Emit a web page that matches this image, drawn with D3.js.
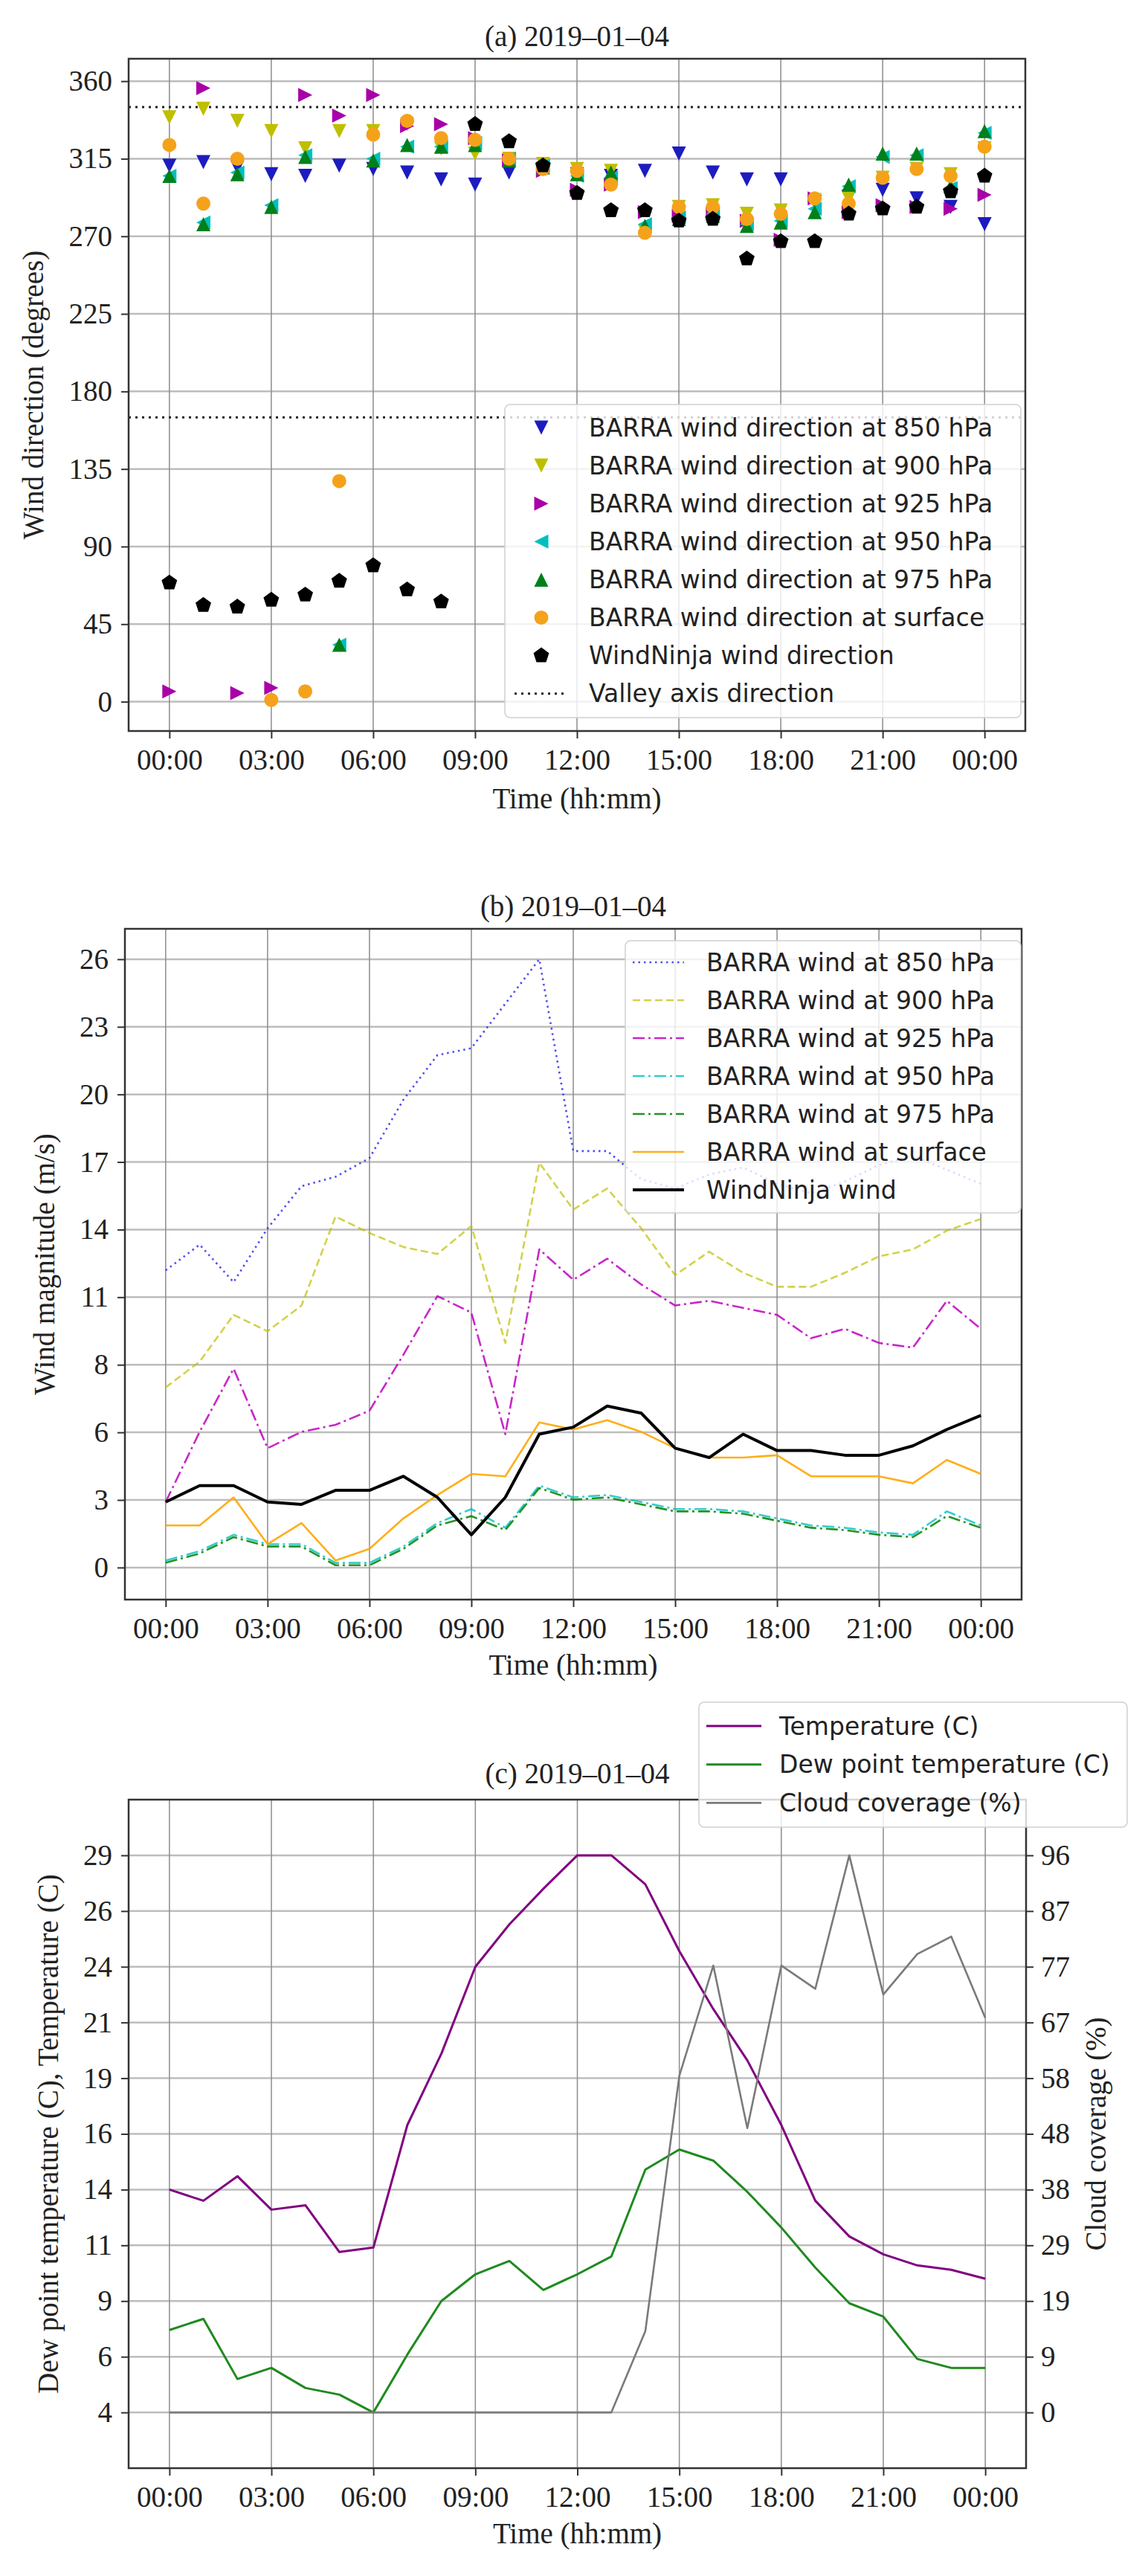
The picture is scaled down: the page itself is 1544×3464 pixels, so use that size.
<!DOCTYPE html>
<html>
<head>
<meta charset="utf-8">
<script src="https://cdn.jsdelivr.net/npm/d3@7"></script>
<style>
  body { margin: 0; background: #fff; }
  svg { display: block; }
</style>
</head>
<body>
<svg id="fig" width="1544" height="3464"></svg>
<script>
// ---- data ----
const hours = [0,1,2,3,4,5,6,7,8,9,10,11,12,13,14,15,16,17,18,19,20,21,22,23,24];
const timeTicks = [0, 3, 6, 9, 12, 15, 18, 21, 24];
const timeLabels = ['00:00','03:00','06:00','09:00','12:00','15:00','18:00','21:00','00:00'];

// (a) wind direction (degrees)
const dir850   = [311,313,310,306,305,311,309,307,303,300,307,309,306,305,308,318,307,303,303,290,293,297,292,287,277];
const dir900   = [339,344,337,331,321,331,331,335,321,318,315,312,309,308,273,287,288,283,285,291,292,304,309,306,321];
const dir925   = [6,356,5,8,352,340,352,334,335,327,314,308,297,300,284,282,283,279,268,292,284,288,287,286,294];
const dir950   = [305,278,307,288,317,33,315,322,322,324,315,311,305,304,277,281,283,277,279,286,299,316,317,298,330];
const dir975   = [305,277,306,287,316,33,314,323,322,323,314,310,306,307,276,280,282,276,278,284,300,318,318,299,331];
const dirSurf  = [323,289,315,1,6,128,329,337,327,326,315,309,308,300,272,287,287,280,283,292,289,304,309,305,322];
const dirNinja = [69,56,55,59,62,70,79,65,58,335,325,311,295,285,285,279,280,257,267,267,283,286,287,296,305];
const valleyAxis = [345, 165];
const dirTicks = [0, 45, 90, 135, 180, 225, 270, 315, 360];

// (b) wind magnitude (m/s)
const wind850   = [12.7,13.8,12.2,14.5,16.3,16.7,17.5,20.0,21.9,22.2,24.1,26.0,17.8,17.8,16.6,16.2,16.8,17.1,16.4,16.0,16.5,17.2,17.6,17.0,16.4];
const wind900   = [7.7,8.8,10.8,10.1,11.2,15.0,14.3,13.7,13.4,14.6,9.6,17.3,15.3,16.2,14.5,12.5,13.5,12.6,12.0,12.0,12.6,13.3,13.6,14.4,14.9];
const wind925   = [2.8,5.8,8.5,5.1,5.8,6.1,6.7,9.1,11.6,10.9,5.7,13.6,12.3,13.2,12.1,11.2,11.4,11.1,10.8,9.8,10.2,9.6,9.4,11.4,10.2];
const wind950   = [0.3,0.7,1.4,1.0,1.0,0.2,0.2,0.9,1.9,2.5,1.7,3.5,3.0,3.1,2.8,2.5,2.5,2.4,2.1,1.8,1.7,1.5,1.4,2.4,1.8];
const wind975   = [0.2,0.6,1.3,0.9,0.9,0.1,0.1,0.8,1.8,2.2,1.6,3.4,2.9,3.0,2.7,2.4,2.4,2.3,2.0,1.7,1.6,1.4,1.3,2.2,1.7];
const windSurf  = [1.8,1.8,3.0,1.0,1.9,0.3,0.8,2.1,3.1,4.0,3.9,6.2,5.9,6.3,5.8,5.1,4.7,4.7,4.8,3.9,3.9,3.9,3.6,4.6,4.0];
const windNinja = [2.8,3.5,3.5,2.8,2.7,3.3,3.3,3.9,3.0,1.4,3.0,5.7,6.0,6.9,6.6,5.1,4.7,5.7,5.0,5.0,4.8,4.8,5.2,5.9,6.5];
const magTickRange = [0, 26];
const magTickLabels = ['0','3','6','8','11','14','17','20','23','26'];

// (c) temperature, dew point, cloud
const temperature = [14.0,13.5,14.6,13.1,13.3,11.2,11.4,16.9,20.1,24.0,25.9,27.5,29.0,29.0,27.7,24.7,22.1,19.8,16.9,13.5,11.9,11.1,10.6,10.4,10.0];
const dewPoint    = [7.7,8.2,5.5,6.0,5.1,4.8,4.0,6.6,9.0,10.2,10.8,9.5,10.2,11.0,14.9,15.8,15.3,13.9,12.3,10.5,8.9,8.3,6.4,6.0,6.0];
const cloudCover  = [0,0,0,0,0,0,0,0,0,0,0,0,0,0,14,58,77,49,77,73,96,72,79,82,68];
const tempTickRange = [4, 29];
const tempTickLabels = ['4','6','9','11','14','16','19','21','24','26','29'];
const cloudTickRange = [0, 96];
const cloudTickLabels = ['0','9','19','29','38','48','58','67','77','87','96'];

// ---- helpers ----
const SERIF = '"Liberation Serif", "Times New Roman", serif';
const SANS = '"DejaVu Sans", sans-serif';
const svg = d3.select('#fig');

const linspace = (r, n) => d3.range(n).map(i => r[0] + (r[1] - r[0]) * i / (n - 1));

function markerPath(shape) {
  if (shape === 'circle') return d3.symbol(d3.symbolCircle, Math.PI * 9.5 * 9.5)();
  if (shape === 'pentagon') {
    const pts = d3.range(5).map(k => {
      const a = (-90 + 72 * k) * Math.PI / 180;
      return [11 * Math.cos(a), 11 * Math.sin(a)];
    });
    return 'M' + pts.join('L') + 'Z';
  }
  // matplotlib style triangle: width = height
  return 'M0,-9.5L9.5,9.5L-9.5,9.5Z';
}
const rotation = { up: 0, down: 180, left: -90, right: 90, circle: 0, pentagon: 0 };

function grid(g, p, x, y, xt, yt) {
  g.append('g').selectAll('line').data(yt).join('line')
    .attr('x1', p.left).attr('x2', p.right)
    .attr('y1', d => y(d)).attr('y2', d => y(d))
    .attr('stroke', '#bdbdbd').attr('stroke-width', 2.5);
  g.append('g').selectAll('line').data(xt).join('line')
    .attr('x1', d => x(d)).attr('x2', d => x(d))
    .attr('y1', p.top).attr('y2', p.bottom)
    .attr('stroke', '#8c8c8c').attr('stroke-width', 1.5);
}

function styleAxis(sel) {
  sel.select('.domain').remove();
  sel.selectAll('line').attr('stroke', '#333').attr('stroke-width', 2);
  sel.selectAll('text').attr('font-family', SERIF).attr('font-size', 39).attr('fill', '#222');
}

function axes(g, p, x, y, yt, yfmt, xLabelY, yLabelX, yLabel, title, titleY) {
  g.append('rect').attr('x', p.left).attr('y', p.top)
    .attr('width', p.right - p.left).attr('height', p.bottom - p.top)
    .attr('fill', 'none').attr('stroke', '#333').attr('stroke-width', 2.5);
  g.append('g').attr('transform', `translate(0,${p.bottom})`)
    .call(d3.axisBottom(x).tickValues(timeTicks).tickFormat((d, i) => timeLabels[i]).tickSize(10).tickPadding(14))
    .call(styleAxis);
  g.append('g').attr('transform', `translate(${p.left},0)`)
    .call(d3.axisLeft(y).tickValues(yt).tickFormat(yfmt).tickSize(10).tickPadding(12))
    .call(styleAxis);
  g.append('text').attr('x', (p.left + p.right) / 2).attr('y', xLabelY)
    .attr('text-anchor', 'middle').attr('dominant-baseline', 'central')
    .attr('font-family', SERIF).attr('font-size', 39).attr('fill', '#222').text('Time (hh:mm)');
  g.append('text').attr('transform', `translate(${yLabelX},${(p.top + p.bottom) / 2}) rotate(-90)`)
    .attr('text-anchor', 'middle').attr('dominant-baseline', 'central')
    .attr('font-family', SERIF).attr('font-size', 39).attr('fill', '#222').text(yLabel);
  g.append('text').attr('x', (p.left + p.right) / 2).attr('y', titleY)
    .attr('text-anchor', 'middle').attr('dominant-baseline', 'central')
    .attr('font-family', SERIF).attr('font-size', 39).attr('fill', '#222').text(title);
}

function legendBox(g, box, items, handle) {
  const lg = g.append('g');
  lg.append('rect').attr('x', box.x0).attr('y', box.y0)
    .attr('width', box.x1 - box.x0).attr('height', box.y1 - box.y0)
    .attr('rx', 7).attr('fill', 'white').attr('fill-opacity', 0.8)
    .attr('stroke', '#d0d0d0').attr('stroke-width', 1.5);
  items.forEach((it, i) => {
    const cy = box.firstY + i * box.step;
    handle(lg, it, cy);
    lg.append('text').attr('x', box.textX).attr('y', cy)
      .attr('dominant-baseline', 'central')
      .attr('font-family', SANS).attr('font-size', 33).attr('fill', '#222')
      .text(it.label);
  });
}

// ---- (a) wind direction ----
{
  const p = { left: 173, right: 1379, top: 79, bottom: 983 };
  const x = d3.scaleLinear().domain([-1.2, 25.2]).range([p.left, p.right]);
  const y = d3.scaleLinear().domain([-17, 373]).range([p.bottom, p.top]);
  const g = svg.append('g');
  grid(g, p, x, y, timeTicks, dirTicks);

  g.append('g').selectAll('line').data(valleyAxis).join('line')
    .attr('x1', p.left).attr('x2', p.right)
    .attr('y1', d => y(d)).attr('y2', d => y(d))
    .attr('stroke', '#222').attr('stroke-width', 3).attr('stroke-dasharray', '3,6');

  const series = [
    { label: 'BARRA wind direction at 850 hPa', values: dir850, color: '#1c1cc0', shape: 'down' },
    { label: 'BARRA wind direction at 900 hPa', values: dir900, color: '#bfbf00', shape: 'down' },
    { label: 'BARRA wind direction at 925 hPa', values: dir925, color: '#a800a8', shape: 'right' },
    { label: 'BARRA wind direction at 950 hPa', values: dir950, color: '#00bfbf', shape: 'left' },
    { label: 'BARRA wind direction at 975 hPa', values: dir975, color: '#00801a', shape: 'up' },
    { label: 'BARRA wind direction at surface', values: dirSurf, color: '#f5a21b', shape: 'circle' },
    { label: 'WindNinja wind direction', values: dirNinja, color: '#000000', shape: 'pentagon' }
  ];
  series.forEach(s => {
    g.append('g').selectAll('path').data(s.values).join('path')
      .attr('d', markerPath(s.shape))
      .attr('transform', (d, i) => `translate(${x(hours[i])},${y(d)}) rotate(${rotation[s.shape]})`)
      .attr('fill', s.color);
  });

  axes(g, p, x, y, dirTicks, d => d, 1073, 44, 'Wind direction (degrees)', '(a) 2019–01–04', 48);

  const items = series.concat([{ label: 'Valley axis direction', valley: true }]);
  legendBox(g, { x0: 679, x1: 1373, y0: 544, y1: 965, firstY: 575, step: 51.1, textX: 792 }, items, (lg, it, cy) => {
    if (it.valley) {
      lg.append('line').attr('x1', 692).attr('x2', 762).attr('y1', cy).attr('y2', cy)
        .attr('stroke', '#222').attr('stroke-width', 3).attr('stroke-dasharray', '3,6');
    } else {
      lg.append('path').attr('d', markerPath(it.shape))
        .attr('transform', `translate(728,${cy}) rotate(${rotation[it.shape]})`)
        .attr('fill', it.color);
    }
  });
}

// ---- (b) wind magnitude ----
{
  const p = { left: 168, right: 1374, top: 1249, bottom: 2151 };
  const x = d3.scaleLinear().domain([-1.2, 25.2]).range([p.left, p.right]);
  const y = d3.scaleLinear().domain([-1.37, 27.3]).range([p.bottom, p.top]);
  const yt = linspace(magTickRange, magTickLabels.length);
  const g = svg.append('g');
  grid(g, p, x, y, timeTicks, yt);

  const series = [
    { label: 'BARRA wind at 850 hPa', values: wind850, color: '#3a3af0', w: 2.6, dash: '2.5,5', op: 0.9 },
    { label: 'BARRA wind at 900 hPa', values: wind900, color: '#bfbf00', w: 2.6, dash: '10,5', op: 0.7 },
    { label: 'BARRA wind at 925 hPa', values: wind925, color: '#bf00bf', w: 2.6, dash: '16,5,3,5', op: 0.85 },
    { label: 'BARRA wind at 950 hPa', values: wind950, color: '#00bfbf', w: 2.6, dash: '16,5,3,5', op: 0.8 },
    { label: 'BARRA wind at 975 hPa', values: wind975, color: '#008000', w: 2.6, dash: '16,5,3,5', op: 0.85 },
    { label: 'BARRA wind at surface', values: windSurf, color: '#ffa500', w: 2.6, dash: null, op: 0.9 },
    { label: 'WindNinja wind', values: windNinja, color: '#000000', w: 4, dash: null, op: 1 }
  ];
  const line = d3.line().x((d, i) => x(hours[i])).y(d => y(d));
  series.forEach(s => {
    g.append('path').datum(s.values).attr('d', line)
      .attr('fill', 'none').attr('stroke', s.color).attr('stroke-width', s.w)
      .attr('stroke-opacity', s.op).attr('stroke-linejoin', 'round')
      .attr('stroke-dasharray', s.dash);
  });

  axes(g, p, x, y, yt, (d, i) => magTickLabels[i], 2238, 59, 'Wind magnitude (m/s)', '(b) 2019–01–04', 1218);

  legendBox(g, { x0: 841, x1: 1373, y0: 1265, y1: 1631, firstY: 1294, step: 51, textX: 950 }, series, (lg, it, cy) => {
    lg.append('line').attr('x1', 851).attr('x2', 920).attr('y1', cy).attr('y2', cy)
      .attr('stroke', it.color).attr('stroke-width', it.w).attr('stroke-opacity', it.op)
      .attr('stroke-dasharray', it.dash);
  });
}

// ---- (c) temperature / cloud ----
{
  const p = { left: 173, right: 1380, top: 2420, bottom: 3319 };
  const x = d3.scaleLinear().domain([-1.2, 25.2]).range([p.left, p.right]);
  const y = d3.scaleLinear().domain([1.5, 31.5]).range([p.bottom, p.top]);
  const y2 = d3.scaleLinear().domain([-9.6, 105.6]).range([p.bottom, p.top]);
  const yt = linspace(tempTickRange, tempTickLabels.length);
  const yt2 = linspace(cloudTickRange, cloudTickLabels.length);
  const g = svg.append('g');
  grid(g, p, x, y, timeTicks, yt);

  const series = [
    { label: 'Temperature (C)', values: temperature, scale: y, color: '#800080', w: 3 },
    { label: 'Dew point temperature (C)', values: dewPoint, scale: y, color: '#1f8a1f', w: 3 },
    { label: 'Cloud coverage (%)', values: cloudCover, scale: y2, color: '#7a7a7a', w: 2.6 }
  ];
  series.forEach(s => {
    const line = d3.line().x((d, i) => x(hours[i])).y(d => s.scale(d));
    g.append('path').datum(s.values).attr('d', line)
      .attr('fill', 'none').attr('stroke', s.color).attr('stroke-width', s.w)
      .attr('stroke-linejoin', 'round');
  });

  axes(g, p, x, y, yt, (d, i) => tempTickLabels[i], 3406, 64,
    'Dew point temperature (C), Temperature (C)', '(c) 2019–01–04', 2384);

  g.append('g').attr('transform', `translate(${p.right},0)`)
    .call(d3.axisRight(y2).tickValues(yt2).tickFormat((d, i) => cloudTickLabels[i]).tickSize(10).tickPadding(10))
    .call(styleAxis);
  g.append('text').attr('transform', `translate(1473,${(p.top + p.bottom) / 2}) rotate(-90)`)
    .attr('text-anchor', 'middle').attr('dominant-baseline', 'central')
    .attr('font-family', SERIF).attr('font-size', 39).attr('fill', '#222').text('Cloud coverage (%)');

  legendBox(g, { x0: 940, x1: 1516, y0: 2289, y1: 2457, firstY: 2321, step: 51.7, textX: 1048 }, series, (lg, it, cy) => {
    lg.append('line').attr('x1', 950).attr('x2', 1024).attr('y1', cy).attr('y2', cy)
      .attr('stroke', it.color).attr('stroke-width', it.w);
  });
}
</script>
</body>
</html>
